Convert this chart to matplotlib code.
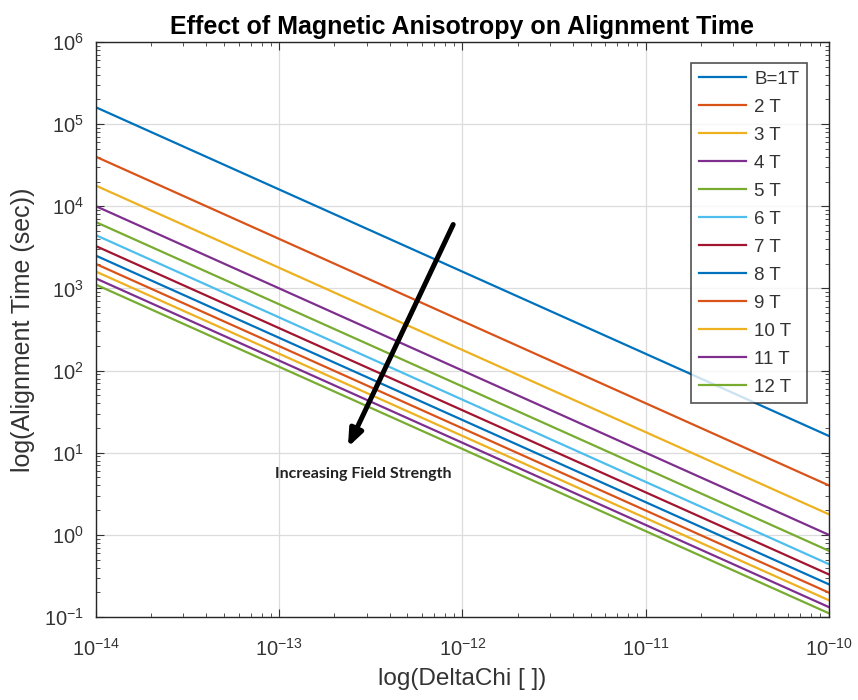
import math
import matplotlib
matplotlib.use("Agg")
import matplotlib.pyplot as plt
from matplotlib.ticker import LogLocator, FuncFormatter, FixedLocator

# DeltaChi range (x) and alignment time at each end (y)
delta_chi = [1e-14, 1e-10]
labels = ["B=1T", "2 T", "3 T", "4 T", "5 T", "6 T", "7 T", "8 T", "9 T", "10 T", "11 T", "12 T"]
time_start = [1.6e5, 4.0e4, 1.78e4, 1.0e4, 6.4e3, 4.44e3, 3.27e3, 2.5e3, 1.98e3, 1.6e3, 1.32e3, 1.11e3]
time_end = [16.0, 4.0, 1.78, 1.0, 0.64, 0.44, 0.33, 0.25, 0.198, 0.16, 0.132, 0.111]

x_ticks = [1e-14, 1e-13, 1e-12, 1e-11, 1e-10]
y_ticks = [1e-1, 1e0, 1e1, 1e2, 1e3, 1e4, 1e5, 1e6]

# MATLAB default line colours
colors = ["#0072BD", "#D95319", "#EDB120", "#7E2F8E", "#77AC30", "#4DBEEE", "#A2142F"]

plt.rcParams["font.family"] = ["Liberation Sans", "DejaVu Sans"]
plt.rcParams["axes.unicode_minus"] = False
text_color = "#333333"


def pow10(v, pos):
    e = int(round(math.log10(v)))
    return r"$\mathregular{10^{%d}}$" % e


fig = plt.figure(figsize=(8.58, 7.0), dpi=100)
ax = fig.add_axes([0.112, 0.1186, 0.854, 0.8214])

for i, lab in enumerate(labels):
    ax.plot(delta_chi, [time_start[i], time_end[i]], color=colors[i % len(colors)],
            lw=1.6, label=lab)

ax.set_xscale("log")
ax.set_yscale("log")
ax.set_xlim(1e-14, 1e-10)
ax.set_ylim(1e-1, 1e6)
ax.xaxis.set_major_locator(FixedLocator(x_ticks))
ax.yaxis.set_major_locator(FixedLocator(y_ticks))
ax.xaxis.set_minor_locator(LogLocator(base=10, subs=range(2, 10), numticks=10))
ax.yaxis.set_minor_locator(LogLocator(base=10, subs=range(2, 10), numticks=10))
ax.xaxis.set_major_formatter(FuncFormatter(pow10))
ax.yaxis.set_major_formatter(FuncFormatter(pow10))
ax.xaxis.set_minor_formatter(FuncFormatter(lambda v, p: ""))
ax.yaxis.set_minor_formatter(FuncFormatter(lambda v, p: ""))

ax.grid(True, which="major", color="#dcdcdc", lw=0.9)
ax.set_axisbelow(True)
ax.tick_params(which="both", direction="in", top=True, right=True, colors=text_color,
               labelsize=14.5)
ax.tick_params(which="major", length=6, width=0.8)
ax.tick_params(which="minor", length=3, width=0.6)
ax.tick_params(axis="x", pad=15)
ax.tick_params(axis="y", pad=9)
for s in ax.spines.values():
    s.set_color("#262626")
    s.set_linewidth(1.0)

ax.set_title("Effect of Magnetic Anisotropy on Alignment Time", fontsize=18,
             fontweight="bold", color="black", pad=6)
ax.set_xlabel("log(DeltaChi [ ])", fontsize=17.5, color=text_color, labelpad=6)
ax.set_ylabel("log(Alignment Time (sec))", fontsize=18, color=text_color, labelpad=6)

leg = ax.legend(loc="upper right", bbox_to_anchor=(0.970, 0.9635), borderaxespad=0,
                fontsize=13.5, frameon=True, fancybox=False, edgecolor="#262626",
                handlelength=2.5, labelspacing=0.58, borderpad=0.4, handletextpad=0.45)
leg.get_frame().set_linewidth(1.2)
for t in leg.get_texts():
    t.set_color(text_color)

# arrow showing increasing field strength
ax.annotate("", xy=(2.37e-13, 11.7), xytext=(8.9e-13, 6.0e3),
            arrowprops=dict(arrowstyle="-|>,head_length=1.0,head_width=0.4",
                            color="black", lw=3.6, shrinkA=0, shrinkB=0))
ax.text(2.86e-13, 5.5, "Increasing Field Strength", fontsize=11.5, fontweight="bold",
        family=["Lato", "DejaVu Sans"], ha="center", va="center", color="#222222")

fig.savefig("out.png", dpi=100)
